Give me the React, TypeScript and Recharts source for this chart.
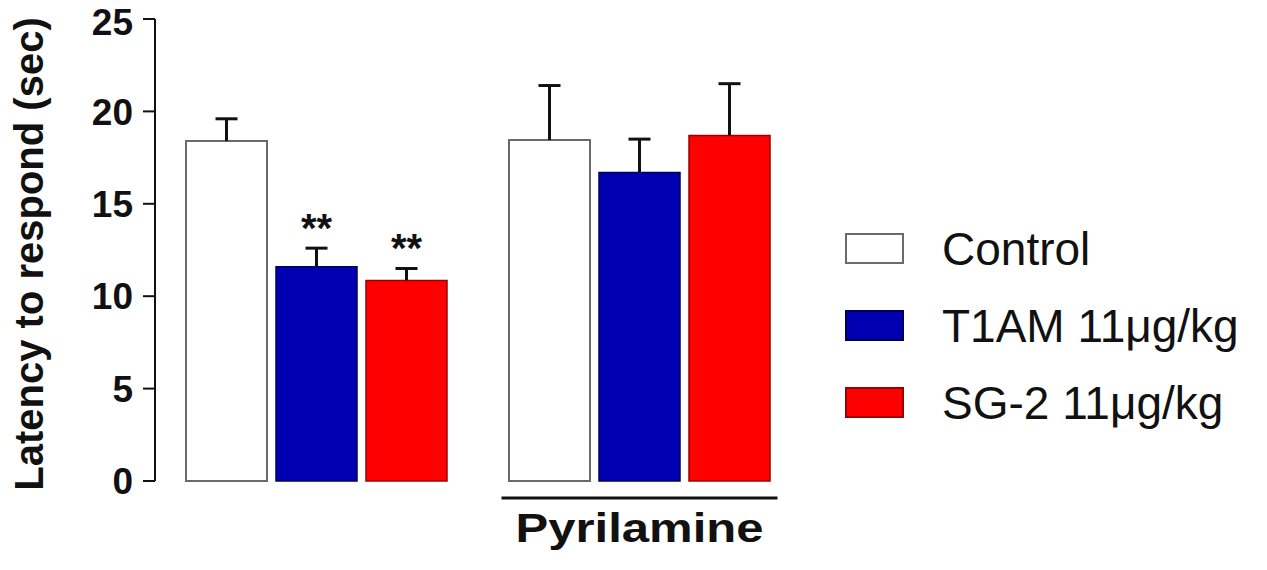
import React from 'react';
import { BarChart, Bar, XAxis, YAxis, LabelList, Rectangle } from 'recharts';

const groups = ['', 'Pyrilamine'];
const control = [18.4, 18.45];
const controlErr = [1.2, 2.95];
const t1am = [11.6, 16.7];
const t1amErr = [1.0, 1.8];
const sg2 = [10.85, 18.7];
const sg2Err = [0.65, 2.8];
const t1amStars = ['**', ''];
const sg2Stars = ['**', ''];
const yTicks = [0, 5, 10, 15, 20, 25];

const seriesInfo = [
  { name: 'Control', fill: '#ffffff', stroke: '#6a6a6a' },
  { name: 'T1AM 11\u03bcg/kg', fill: '#0000b2', stroke: '#00005a' },
  { name: 'SG-2 11\u03bcg/kg', fill: '#ff0000', stroke: '#9a0000' },
];

const data = groups.map((g, i) => ({
  group: g,
  control: control[i],
  t1am: t1am[i],
  sg2: sg2[i],
  t1amStar: t1amStars[i],
  sg2Star: sg2Stars[i],
}));

const FONT = '"Liberation Sans", Arial, Helvetica, sans-serif';

// bar plus upward-only SEM whisker; px per unit taken from the bar's own height
const barWithErr = (values: number[], errs: number[]) => (props: any) => {
  const { x, y, width, height, index, fill, stroke, strokeWidth } = props;
  const perUnit = height / values[index];
  const top = y - errs[index] * perUnit;
  const cx = x + width / 2;
  return (
    <g>
      <Rectangle x={x} y={y} width={width} height={height} fill={fill} stroke={stroke} strokeWidth={strokeWidth} />
      <line x1={cx} x2={cx} y1={y} y2={top} stroke="#111" strokeWidth={3} />
      <line x1={cx - 11} x2={cx + 11} y1={top} y2={top} stroke="#111" strokeWidth={3} />
    </g>
  );
};

const makeStarLabel = (values: number[], errs: number[]) => (props: any) => {
  const { x, y, width, height, index, value } = props;
  if (!value) return null;
  const perUnit = height / values[index];
  const top = y - errs[index] * perUnit;
  return (
    <text x={x + width / 2} y={top - 6} textAnchor="middle" fontFamily={FONT} fontWeight="bold" fontSize={40} fill="#111">
      {value}
    </text>
  );
};

const GroupTick = (props: any) => {
  const { x, y, payload } = props;
  if (!payload.value) return null;
  return (
    <g>
      <line x1={x - 138} x2={x + 138} y1={y + 17} y2={y + 17} stroke="#111" strokeWidth={3} />
      <text x={x} y={y + 61} textAnchor="middle" fontFamily={FONT} fontWeight="bold" fontSize={40} fill="#111" textLength={248} lengthAdjust="spacingAndGlyphs">
        {payload.value}
      </text>
    </g>
  );
};

const LegendBox = () => (
  <div style={{ position: 'absolute', left: 845, top: 210, fontFamily: FONT }}>
    {seriesInfo.map((s) => (
      <div key={s.name} style={{ display: 'flex', alignItems: 'center', height: 77 }}>
        <div style={{ width: 55, height: 27, background: s.fill, border: `2px solid ${s.stroke}`, marginRight: 38 }} />
        <span style={{ fontSize: 46, color: '#111', whiteSpace: 'nowrap' }}>{s.name}</span>
      </div>
    ))}
  </div>
);

export default function App() {
  return (
    <div style={{ position: 'absolute', left: 0, top: 0, width: 1267, height: 570, background: '#fff' }}>
      <BarChart
        width={1267}
        height={570}
        data={data}
        margin={{ top: 19, right: 466, left: 0, bottom: 9 }}
        barSize={81}
        barGap={9}
      >
        <XAxis dataKey="group" height={80} axisLine={false} tickLine={false} tickSize={0} tickMargin={0} tick={<GroupTick />} interval={0} />
        <YAxis
          width={155}
          domain={[0, 25]}
          ticks={yTicks}
          tickSize={12}
          tickMargin={10}
          stroke="#111"
          strokeWidth={2}
          tick={{ fill: '#111', fontFamily: FONT, fontWeight: 'bold', fontSize: 37 }}
          label={{
            content: () => (
              <text transform="translate(43,254) rotate(-90)" textAnchor="middle" fontFamily={FONT} fontWeight="bold" fontSize={40} fill="#111">
                Latency to respond (sec)
              </text>
            ),
          }}
        />
        <Bar dataKey="control" name={seriesInfo[0].name} fill={seriesInfo[0].fill} stroke={seriesInfo[0].stroke} strokeWidth={2} isAnimationActive={false} shape={barWithErr(control, controlErr)} />
        <Bar dataKey="t1am" name={seriesInfo[1].name} fill={seriesInfo[1].fill} stroke={seriesInfo[1].stroke} strokeWidth={1.5} isAnimationActive={false} shape={barWithErr(t1am, t1amErr)}>
          <LabelList dataKey="t1amStar" content={makeStarLabel(t1am, t1amErr)} />
        </Bar>
        <Bar dataKey="sg2" name={seriesInfo[2].name} fill={seriesInfo[2].fill} stroke={seriesInfo[2].stroke} strokeWidth={1.5} isAnimationActive={false} shape={barWithErr(sg2, sg2Err)}>
          <LabelList dataKey="sg2Star" content={makeStarLabel(sg2, sg2Err)} />
        </Bar>
      </BarChart>
      <LegendBox />
    </div>
  );
}
